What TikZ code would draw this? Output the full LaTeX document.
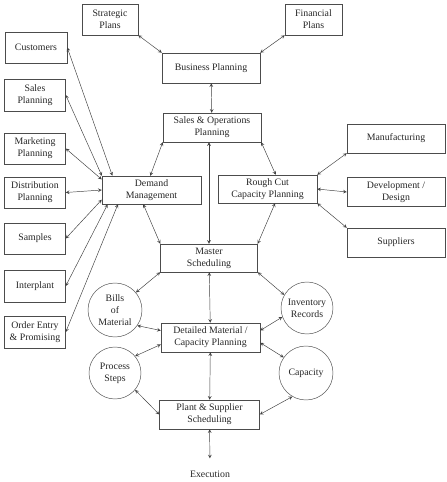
\documentclass[tikz,border=0pt]{standalone}
\usepackage{fontspec}
\setmainfont{Liberation Serif}
\begin{document}
\begin{tikzpicture}[x=0.03cm, y=-0.03cm, >=stealth,
    box/.style={draw=black!70, text=black!85, align=center, inner sep=1pt, font=\fontsize{8.4}{10.2}\selectfont},
    bubble/.style={draw=black!70, circle, text=black!85, align=center, inner sep=0pt, font=\fontsize{8.4}{10.2}\selectfont},
    link/.style={<->, draw=black!75, thin}]
    \useasboundingbox (0,0) rectangle (446,482);
    \node (st) [box, minimum width=56*0.03cm, minimum height=31*0.03cm] at (110,19.5) {Strategic\\Plans};
    \node (fin) [box, minimum width=57*0.03cm, minimum height=31*0.03cm] at (313.5,19.5) {Financial\\Plans};
    \node (bp) [box, minimum width=98*0.03cm, minimum height=30*0.03cm] at (211,68) {Business Planning};
    \node (sop) [box, minimum width=98*0.03cm, minimum height=29*0.03cm] at (212,127.5) {Sales \& Operations\\Planning};
    \node (cust) [box, minimum width=62*0.03cm, minimum height=31*0.03cm] at (36,47.5) {Customers};
    \node (sp) [box, minimum width=61*0.03cm, minimum height=32*0.03cm] at (35,95) {Sales\\Planning};
    \node (mk) [box, minimum width=61*0.03cm, minimum height=31*0.03cm] at (35,148.5) {Marketing\\Planning};
    \node (dp) [box, minimum width=61*0.03cm, minimum height=31*0.03cm] at (35,192.5) {Distribution\\Planning};
    \node (sa) [box, minimum width=61*0.03cm, minimum height=31*0.03cm] at (35,238.5) {Samples};
    \node (ip) [box, minimum width=61*0.03cm, minimum height=32*0.03cm] at (35,286) {Interplant};
    \node (oe) [box, minimum width=61*0.03cm, minimum height=32*0.03cm] at (35,332) {Order Entry\\\& Promising};
    \node (dm) [box, minimum width=99*0.03cm, minimum height=28*0.03cm] at (151.5,190) {Demand\\Management};
    \node (rc) [box, minimum width=99*0.03cm, minimum height=28*0.03cm] at (267.5,189) {Rough Cut\\Capacity Planning};
    \node (mf) [box, minimum width=98*0.03cm, minimum height=29*0.03cm] at (396,138.5) {Manufacturing};
    \node (dev) [box, minimum width=98*0.03cm, minimum height=29*0.03cm] at (396,192) {Development /\\Design};
    \node (sup) [box, minimum width=98*0.03cm, minimum height=29*0.03cm] at (396,242.5) {Suppliers};
    \node (ms) [box, minimum width=97*0.03cm, minimum height=28*0.03cm] at (209,258) {Master\\Scheduling};
    \node (bom) [bubble, minimum size=54*0.03cm] at (115,310) {Bills\\of\\Material};
    \node (inv) [bubble, minimum size=52*0.03cm] at (307,308) {Inventory\\Records};
    \node (dt) [box, minimum width=99*0.03cm, minimum height=29*0.03cm] at (210.5,337.5) {Detailed Material /\\Capacity Planning};
    \node (ps) [bubble, minimum size=52*0.03cm] at (115,373) {Process\\Steps};
    \node (cap) [bubble, minimum size=54*0.03cm] at (306,373) {Capacity};
    \node (pl) [box, minimum width=100*0.03cm, minimum height=29*0.03cm] at (209.5,414.5) {Plant \& Supplier\\Scheduling};
    \node (ex) [text=black!85, font=\fontsize{8.4}{10.2}\selectfont] at (210,474) {Execution};
    \draw[link] (st.south east) -- (bp.north west);
    \draw[link] (fin.south west) -- (bp.north east);
    \draw[link] (bp) -- (sop);
    \draw[link] (sop.south west) -- (dm.95);
    \draw[link] (sop.south east) -- (rc.60);
    \draw[link] (sop.south -| ms.north) -- (ms.north);
    \draw[link] (cust.east) -- (dm.160);
    \draw[link] (sp.east) -- (dm.164);
    \draw[link] (mk.east) -- (dm.168);
    \draw[link] (dp.east) -- (dm.180);
    \draw[link] (sa.east) -- (dm.191);
    \draw[link] (ip.east) -- (dm.198);
    \draw[link] (oe.east) -- (dm.203);
    \draw[link] (mf.south west) -- (rc.north east);
    \draw[link] (dev.west) -- (rc.east);
    \draw[link] (sup.north west) -- (rc.south east);
    \draw[link] (dm.240) -- (ms.north west);
    \draw[link] (rc.298) -- (ms.north east);
    \draw[link] (ms.south west) -- (bom.40);
    \draw[link] (ms.south east) -- (inv.150);
    \draw[link] (ms) -- (dt);
    \draw[link] (bom.-35) -- (dt.172);
    \draw[link] (inv.200) -- (dt.8);
    \draw[link] (dt.188) -- (ps.40);
    \draw[link] (dt.-6) -- (cap.145);
    \draw[link] (dt) -- (pl);
    \draw[link] (ps.-40) -- (pl.west);
    \draw[link] (cap.240) -- (pl.east);
    \draw[link, shorten >=7pt] (pl) -- (ex);
  \end{tikzpicture}
\end{document}
